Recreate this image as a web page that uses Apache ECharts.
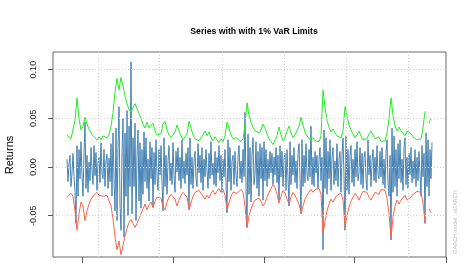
<!DOCTYPE html>
<html><head><meta charset="utf-8">
<script src="https://cdn.jsdelivr.net/npm/echarts@6/dist/echarts.min.js"></script>
<style>html,body{margin:0;padding:0;background:#fff}#c{width:474px;height:271px}</style>
</head><body><div id="c"></div>
<script>
// Upper 1% VaR limit (green), one value every 2 observations
const upperVaR = [
0.033,0.031,0.029,0.031,0.048,0.071,0.050,0.038,0.042,0.051,
0.044,0.039,0.035,0.032,0.030,0.028,0.031,0.028,0.032,0.034,
0.030,0.033,0.042,0.056,0.077,0.091,0.079,0.092,0.083,0.073,
0.065,0.059,0.056,0.061,0.065,0.060,0.055,0.050,0.044,0.040,
0.046,0.040,0.038,0.045,0.037,0.033,0.031,0.034,0.044,0.047,
0.038,0.033,0.030,0.029,0.036,0.043,0.037,0.032,0.028,0.027,
0.034,0.047,0.040,0.033,0.029,0.031,0.027,0.030,0.033,0.037,
0.032,0.036,0.030,0.027,0.031,0.028,0.025,0.029,0.026,0.032,
0.046,0.040,0.033,0.029,0.027,0.030,0.028,0.026,0.029,0.043,
0.066,0.053,0.046,0.041,0.037,0.039,0.035,0.038,0.044,0.040,
0.034,0.029,0.026,0.023,0.025,0.032,0.041,0.033,0.027,0.030,
0.037,0.042,0.035,0.030,0.033,0.031,0.042,0.051,0.043,0.036,
0.032,0.029,0.027,0.030,0.027,0.029,0.026,0.032,0.079,0.061,
0.048,0.041,0.036,0.039,0.035,0.032,0.033,0.030,0.037,0.062,
0.052,0.043,0.038,0.034,0.030,0.033,0.037,0.032,0.028,0.026,
0.029,0.034,0.037,0.033,0.029,0.027,0.031,0.026,0.024,0.027,
0.035,0.050,0.071,0.053,0.042,0.037,0.041,0.037,0.035,0.032,
0.037,0.039,0.034,0.031,0.032,0.028,0.026,0.029,0.040,0.057,
null,0.045,0.050
];
// Lower 1% VaR limit (red), one value every 2 observations
const lowerVaR = [
-0.031,-0.029,-0.027,-0.030,-0.045,-0.065,-0.048,-0.036,-0.040,-0.055,
-0.045,-0.038,-0.033,-0.030,-0.028,-0.026,-0.029,-0.027,-0.030,-0.032,
-0.029,-0.031,-0.040,-0.053,-0.072,-0.085,-0.076,-0.090,-0.080,-0.071,
-0.063,-0.057,-0.054,-0.058,-0.062,-0.058,-0.053,-0.048,-0.043,-0.038,
-0.044,-0.039,-0.036,-0.042,-0.035,-0.031,-0.029,-0.032,-0.041,-0.044,
-0.036,-0.031,-0.028,-0.027,-0.033,-0.040,-0.034,-0.029,-0.026,-0.025,
-0.031,-0.043,-0.037,-0.030,-0.026,-0.028,-0.024,-0.027,-0.030,-0.033,
-0.029,-0.032,-0.027,-0.024,-0.028,-0.025,-0.022,-0.026,-0.023,-0.029,
-0.043,-0.037,-0.030,-0.026,-0.024,-0.027,-0.025,-0.023,-0.026,-0.040,
-0.062,-0.050,-0.043,-0.038,-0.034,-0.036,-0.032,-0.035,-0.040,-0.037,
-0.031,-0.026,-0.022,-0.018,-0.021,-0.028,-0.037,-0.030,-0.024,-0.027,
-0.033,-0.038,-0.031,-0.026,-0.029,-0.027,-0.038,-0.048,-0.040,-0.033,
-0.029,-0.026,-0.023,-0.026,-0.023,-0.025,-0.022,-0.028,-0.068,-0.056,
-0.045,-0.038,-0.033,-0.036,-0.032,-0.029,-0.030,-0.027,-0.034,-0.062,
-0.050,-0.041,-0.035,-0.031,-0.027,-0.030,-0.034,-0.029,-0.025,-0.023,
-0.026,-0.031,-0.034,-0.030,-0.026,-0.024,-0.028,-0.023,-0.021,-0.024,
-0.032,-0.048,-0.072,-0.052,-0.040,-0.034,-0.038,-0.034,-0.032,-0.029,
-0.034,-0.036,-0.031,-0.028,-0.029,-0.025,-0.023,-0.026,-0.037,-0.057,
null,-0.043,-0.047
];
// Return series (steelblue), one value per observation
const returns = [
0.008,-0.015,0.003,0.012,-0.020,-0.006,0.014,-0.010,
-0.025,-0.058,0.022,-0.030,
0.018,-0.012,0.026,-0.008,-0.030,0.014,0.046,-0.022,
0.012,-0.026,0.005,-0.014,0.020,-0.003,-0.018,0.022,-0.009,0.015,-0.024,0.004,
0.010,-0.016,0.025,-0.007,-0.012,0.018,-0.020,0.006,0.013,-0.022,0.009,-0.015,
0.024,-0.030,0.035,-0.012,-0.045,0.040,
-0.055,0.020,0.062,-0.040,-0.065,0.015,0.050,-0.072,0.035,-0.030,0.058,-0.050,0.042,-0.020,
0.108,
-0.048,0.030,-0.020,0.045,-0.055,0.012,0.038,-0.035,0.025,-0.042,0.018,-0.028,0.036,-0.015,
0.030,-0.022,0.008,-0.035,0.026,-0.012,0.020,-0.040,0.015,-0.018,0.028,-0.010,-0.024,0.018,-0.008,0.022,-0.016,
-0.045,0.030,
-0.020,0.012,-0.028,0.006,0.022,-0.014,0.004,-0.018,0.025,-0.009,-0.026,0.016,
-0.005,0.020,-0.014,0.010,-0.022,0.028,-0.012,0.006,-0.017,0.014,-0.008,0.020,
-0.044,
0.030,-0.018,0.010,-0.022,0.006,0.016,-0.012,-0.020,0.024,-0.006,0.012,-0.016,0.020,-0.024,0.008,-0.010,0.018,-0.004,-0.022,
0.014,-0.012,0.026,-0.008,0.004,-0.018,0.016,-0.020,0.010,-0.006,0.022,-0.014,0.012,-0.026,0.008,-0.010,0.018,-0.016,
-0.047,
0.028,-0.015,0.020,-0.024,0.006,0.012,-0.018,0.016,-0.008,-0.020,0.010,0.022,-0.012,0.006,-0.016,0.018,-0.010,
0.056,-0.020,-0.062,
0.034,-0.028,0.020,-0.036,0.012,0.030,-0.018,-0.008,0.026,-0.022,0.016,-0.030,0.024,-0.012,0.020,
-0.034,
0.026,-0.014,0.018,-0.020,0.008,-0.012,0.016,-0.006,0.014,-0.018,0.010,-0.008,0.020,-0.016,0.012,
-0.034,
0.022,-0.010,0.016,-0.020,0.008,0.014,-0.024,0.018,-0.012,
-0.040,
0.026,-0.018,0.012,-0.008,0.020,-0.016,0.006,-0.022,0.014,0.024,-0.012,
-0.048,
0.028,-0.020,0.012,-0.016,0.024,-0.008,-0.014,0.018,-0.010,0.042,-0.018,0.010,-0.020,0.016,-0.006,0.012,-0.022,0.008,0.020,-0.014,0.010,
-0.085,
0.038,-0.022,0.030,-0.028,0.016,-0.012,0.028,-0.024,0.010,0.020,-0.018,0.006,-0.014,0.024,-0.020,0.008,0.016,-0.026,0.012,0.030,-0.010,
-0.065,
0.032,-0.024,0.018,-0.028,0.012,0.022,-0.016,0.008,-0.020,0.018,-0.010,0.026,-0.014,-0.006,0.020,-0.018,0.014,-0.022,0.010,0.016,-0.012,-0.024,
0.028,-0.008,0.012,-0.020,0.006,0.018,-0.014,0.010,-0.016,0.022,-0.008,-0.012,0.016,-0.010,0.020,-0.018,0.008,-0.022,0.014,0.028,-0.016,-0.030,0.012,
-0.075,
0.040,-0.026,0.032,-0.020,0.018,-0.030,0.024,-0.012,0.028,-0.016,0.008,-0.024,0.020,0.030,-0.018,0.010,-0.022,
0.014,-0.008,0.020,-0.016,0.006,-0.012,0.018,-0.020,0.010,-0.014,0.016,-0.008,-0.030,0.022,-0.010,0.014,
-0.058,
0.035,-0.020,0.028,-0.030,0.018,-0.012,0.025
];
const yTickValues = [-0.05, 0, 0.05, 0.10];
const xTickObs = [15, 106, 197, 287, 379];
const xGridObs = [31, 92, 155, 217, 279, 341];
const titleText = 'Series with with 1% VaR Limits';
const yName = 'Returns';
const sideNote = 'GARCH model : sGARCH';

const varStep = 2; // VaR arrays are listed every 2nd observation
const toPairs = (arr, step) => arr.map((v, i) => [i * step, v === null ? '-' : v]);

const chart = echarts.init(document.getElementById('c'), null, {renderer: 'canvas'});
const gridLineStyle = {color: '#d3d3d3', type: [1, 2], width: 1};
chart.setOption({
  animation: false,
  backgroundColor: '#fff',
  title: {
    text: titleText, left: 249, top: 22, textAlign: 'center',
    textStyle: {fontFamily: 'Liberation Sans', fontWeight: 'bold', fontSize: 8.7, color: '#000'}
  },
  grid: {left: 53, right: 28, top: 52, bottom: 14, show: true, borderColor: '#666', borderWidth: 1, backgroundColor: 'transparent'},
  xAxis: {
    type: 'value', min: -14, max: 379,
    axisLine: {show: false, onZero: false},
    axisTick: {show: true, customValues: xTickObs, length: 6, lineStyle: {color: '#555'}},
    axisLabel: {show: false},
    splitLine: {show: false}
  },
  yAxis: {
    type: 'value', min: -0.0924, max: 0.1181,
    axisLine: {show: false, onZero: false},
    axisTick: {show: true, customValues: yTickValues, length: 5, lineStyle: {color: '#555'}},
    axisLabel: {
      show: true, customValues: yTickValues, rotate: 90, margin: 15,
      formatter: v => v.toFixed(2),
      fontFamily: 'Liberation Sans', fontSize: 9, color: '#222'
    },
    splitLine: {show: false}
  },
  graphic: [
    {type: 'text', x: 10, y: 155, rotation: Math.PI / 2,
     style: {text: yName, font: '11px Liberation Sans', fill: '#000', textAlign: 'center', textVerticalAlign: 'middle'}},
    {type: 'text', x: 455, y: 222, rotation: Math.PI / 2,
     style: {text: sideNote, font: '5.5px Liberation Sans', fill: '#bebebe', textAlign: 'center', textVerticalAlign: 'middle'}}
  ],
  series: [
    {
      name: 'Returns', type: 'line', data: toPairs(returns, 1), showSymbol: false, symbol: 'none',
      lineStyle: {color: '#4682B4', width: 1}, z: 2, silent: true,
      markLine: {
        silent: true, symbol: 'none', label: {show: false},
        lineStyle: gridLineStyle,
        data: xGridObs.map(v => ({xAxis: v})).concat(yTickValues.map(v => ({yAxis: v})))
      }
    },
    {
      name: 'Lower VaR', type: 'line', data: toPairs(lowerVaR, varStep), showSymbol: false, symbol: 'none',
      connectNulls: false, lineStyle: {color: '#FF6347', width: 1}, z: 3, silent: true
    },
    {
      name: 'Upper VaR', type: 'line', data: toPairs(upperVaR, varStep), showSymbol: false, symbol: 'none',
      connectNulls: false, lineStyle: {color: '#22ee22', width: 1}, z: 3, silent: true
    }
  ]
});
</script>
</body></html>
